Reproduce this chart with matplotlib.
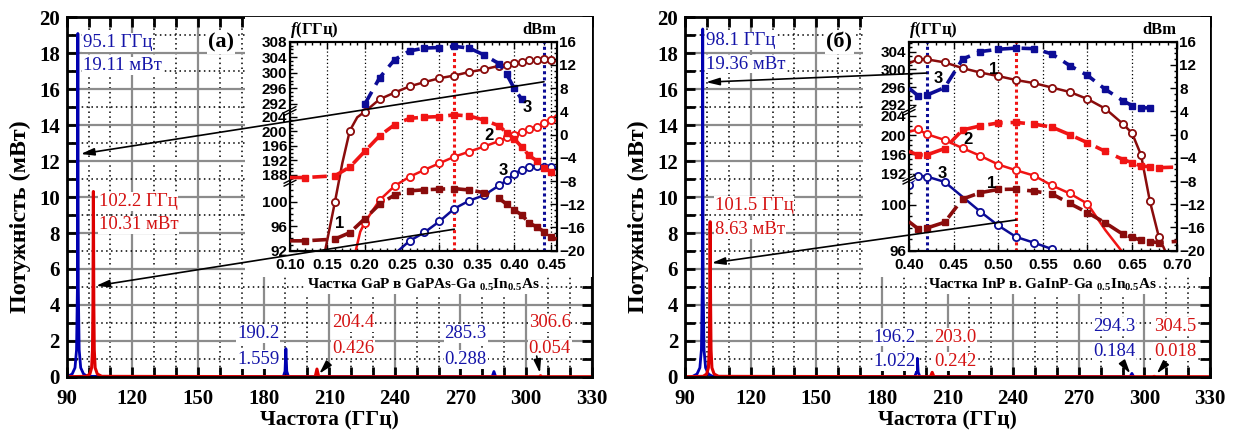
import numpy as np
import matplotlib
matplotlib.use("Agg")
import matplotlib.pyplot as plt
from matplotlib.patches import Rectangle, ConnectionPatch
from matplotlib.ticker import FixedLocator, MultipleLocator, FormatStrFormatter, FixedFormatter, NullFormatter

plt.rcParams['font.family'] = ['Liberation Serif', 'DejaVu Serif']
plt.rcParams['font.weight'] = 'bold'
plt.rcParams['axes.labelweight'] = 'bold'
plt.rcParams['mathtext.fontset'] = 'custom'
plt.rcParams['mathtext.rm'] = 'Liberation Serif:bold'
plt.rcParams['mathtext.bf'] = 'Liberation Serif:bold'
plt.rcParams['mathtext.it'] = 'Liberation Serif:italic:bold'

# ---------------- main spectra data ----------------
a_blue_f = [90.5, 92.5, 93.8, 94.5, 94.9, 95.1, 95.3, 95.7, 96.4, 97.7, 99.5,
            189.0, 189.8, 190.2, 190.6, 191.4, 284.5, 285.3, 286.1]
a_blue_p = [0.02, 0.15, 0.5, 1.5, 5.0, 19.11, 5.0, 1.5, 0.5, 0.15, 0.02,
            0.0, 0.3, 1.559, 0.3, 0.0, 0.0, 0.288, 0.0]
a_red_f = [90, 99.0, 100.6, 101.4, 101.8, 102.0, 102.2, 102.4, 102.6, 103.0, 104.0, 106.0,
           203.6, 204.4, 205.2, 306.0, 306.6, 307.2, 330]
a_red_p = [0, 0.02, 0.15, 0.5, 1.5, 4.0, 10.31, 4.0, 1.5, 0.5, 0.15, 0.02,
           0, 0.426, 0, 0, 0.054, 0, 0]

b_blue_f = [93.5, 95.5, 96.8, 97.5, 97.9, 98.1, 98.3, 98.7, 99.4, 100.7, 102.5,
            195.0, 195.8, 196.2, 196.6, 197.4, 293.5, 294.3, 295.1]
b_blue_p = [0.02, 0.15, 0.5, 1.5, 5.0, 19.36, 5.0, 1.5, 0.5, 0.15, 0.02,
            0.0, 0.25, 1.022, 0.25, 0.0, 0.0, 0.184, 0.0]
b_red_f = [90, 98.3, 99.9, 100.7, 101.1, 101.3, 101.5, 101.7, 101.9, 102.3, 103.3, 105.3,
           202.2, 203.0, 203.8, 303.7, 304.5, 305.3, 330]
b_red_p = [0, 0.02, 0.15, 0.5, 1.5, 4.0, 8.63, 4.0, 1.5, 0.5, 0.15, 0.02,
           0, 0.242, 0, 0, 0.018, 0, 0]

# ---------------- inset (a) data ----------------
a_x1 = [0.147, 0.16, 0.17, 0.18, 0.19, 0.20, 0.22, 0.24, 0.26, 0.28, 0.30, 0.32, 0.34, 0.36,
        0.38, 0.39, 0.40, 0.41, 0.42, 0.43, 0.44, 0.45, 0.457]
a_f1 = [92.0, 99.9, 191.2, 200.1, 203.8, 205.3, 293.2, 294.9, 296.5, 297.6, 298.6, 299.3, 300.2,
        300.9, 301.8, 302.1, 302.4, 302.7, 303.2, 303.3, 303.5, 303.4, 303.0]
a_x2 = [0.188, 0.194, 0.20, 0.22, 0.24, 0.26, 0.28, 0.30, 0.32, 0.34, 0.36, 0.38, 0.39, 0.40,
        0.41, 0.42, 0.43, 0.44, 0.45, 0.457]
a_f2 = [92.0, 95.1, 96.6, 100.3, 102.6, 187.5, 189.4, 191.2, 193.0, 194.4, 195.8, 197.3, 198.3,
        199.0, 199.9, 200.6, 201.2, 202.2, 203.1, 204.4]
a_x3 = [0.245, 0.26, 0.28, 0.30, 0.32, 0.34, 0.36, 0.38, 0.39, 0.40, 0.41, 0.42, 0.43, 0.44,
        0.45, 0.457]
a_f3 = [92.0, 93.6, 95.0, 96.8, 98.9, 100.2, 101.1, 102.7, 186.5, 188.3, 189.4, 190.1, 190.5,
        190.3, 190.1, 189.5]
a_px3 = [0.20, 0.22, 0.24, 0.26, 0.28, 0.30, 0.32, 0.34, 0.36, 0.38, 0.39, 0.40, 0.41]
a_p3 = [5.2, 9.8, 12.9, 14.4, 14.9, 15.0, 15.2, 14.9, 13.7, 12.2, 10.4, 8.0, 6.1]
a_px12 = [0.10, 0.12, 0.16, 0.18, 0.20, 0.22, 0.24, 0.26, 0.28, 0.30, 0.32, 0.34, 0.36, 0.38,
          0.39, 0.40, 0.41, 0.42, 0.43, 0.44, 0.45, 0.457]
a_p2 = [-7.4, -7.4, -7.1, -5.6, -2.9, -0.2, 1.7, 2.8, 3.0, 3.1, 3.4, 3.2, 2.5, 1.5, 0.3, -0.7,
        -2.1, -3.6, -4.5, -5.8, -6.4, -7.3]
a_p1 = [-18.3, -18.3, -18.0, -16.9, -14.5, -12.0, -10.4, -9.7, -9.5, -9.4, -9.3, -9.55, -10.0,
        -11.0, -12.0, -13.0, -13.8, -15.2, -15.9, -16.7, -17.7, -18.0]

# ---------------- inset (b) data ----------------
b_x1 = [0.40, 0.41, 0.42, 0.44, 0.46, 0.48, 0.50, 0.52, 0.54, 0.56, 0.58, 0.60, 0.62, 0.64,
        0.65, 0.66, 0.67, 0.68, 0.687]
b_f1 = [301.4, 302.3, 302.3, 301.6, 300.3, 299.3, 298.5, 297.6, 296.9, 295.9, 294.9, 293.3,
        291.1, 202.3, 200.4, 195.9, 100.3, 97.2, 96.0]
b_x2 = [0.40, 0.41, 0.42, 0.44, 0.46, 0.48, 0.50, 0.52, 0.54, 0.56, 0.58, 0.60, 0.62, 0.638]
b_f2 = [200.7, 201.2, 200.2, 199.0, 197.3, 195.7, 193.9, 192.7, 191.6, 101.7, 101.0, 100.1,
        97.8, 96.0]
b_x3 = [0.40, 0.41, 0.42, 0.44, 0.46, 0.48, 0.50, 0.52, 0.54, 0.56]
b_f3 = [101.7, 191.6, 191.4, 102.0, 100.7, 99.4, 98.2, 97.2, 96.7, 96.15]
b_px3 = [0.40, 0.41, 0.42, 0.44, 0.46, 0.48, 0.50, 0.52, 0.54, 0.56, 0.58, 0.60, 0.62, 0.64,
         0.65, 0.66, 0.67]
b_p3 = [8.0, 6.7, 6.8, 8.1, 13.0, 14.3, 14.7, 14.9, 14.8, 13.9, 11.9, 10.2, 7.8, 5.8, 5.0, 4.6, 4.6]
b_px12 = [0.40, 0.41, 0.42, 0.44, 0.46, 0.48, 0.50, 0.52, 0.54, 0.56, 0.58, 0.60, 0.62, 0.64,
          0.65, 0.66, 0.67, 0.68, 0.70]
b_p2 = [-2.9, -3.5, -3.5, -2.4, 0.8, 1.5, 2.0, 2.1, 1.8, 1.3, 0.0, -1.4, -2.9, -4.3, -4.85,
        -5.4, -5.55, -5.7, -5.6]
b_p1 = [-15.0, -16.2, -16.1, -15.1, -11.1, -10.0, -9.45, -9.4, -9.75, -10.2, -11.85, -13.45,
        -15.2, -17.2, -17.7, -18.2, -18.45, -18.6, -18.4]

SPEC_BLUE = '#0000b0'
SPEC_RED = '#dd0000'
TXT_BLUE = '#1414a8'
TXT_RED = '#d41212'
BLUE = '#0c0c96'
RED = '#f01414'
DRED = '#8a0c0c'
GRAYGRID = '#8c8c8c'
SANS = 'Liberation Sans'


def make_scale(F, U):
    F = np.asarray(F, float)
    U = np.asarray(U, float)
    s0 = (U[1] - U[0]) / (F[1] - F[0])
    s1 = (U[-1] - U[-2]) / (F[-1] - F[-2])

    def fwd(v):
        v = np.asarray(v, float)
        out = np.interp(v, F, U)
        out = np.where(v < F[0], U[0] + (v - F[0]) * s0, out)
        out = np.where(v > F[-1], U[-1] + (v - F[-1]) * s1, out)
        return out

    def inv(u):
        u = np.asarray(u, float)
        out = np.interp(u, U, F)
        out = np.where(u < U[0], F[0] + (u - U[0]) / s0, out)
        out = np.where(u > U[-1], F[-1] + (u - U[-1]) / s1, out)
        return out
    return fwd, inv


fig = plt.figure(figsize=(12.36, 4.36), dpi=100)

W, H = 1236.0, 436.0


def fr(x0, y0, x1, y1):
    return [x0 / W, 1 - y1 / H, (x1 - x0) / W, (y1 - y0) / H]


def style_main(ax, tag):
    ax.set_xlim(90, 330)
    ax.set_ylim(0, 20)
    ax.xaxis.set_major_locator(MultipleLocator(30))
    ax.xaxis.set_minor_locator(MultipleLocator(10))
    ax.yaxis.set_major_locator(MultipleLocator(2))
    ax.yaxis.set_minor_locator(MultipleLocator(1))
    ax.grid(True, which='major', color=GRAYGRID, lw=1.6, ls='-')
    ax.grid(True, which='minor', color='k', lw=1.1, ls=(0, (1, 2.2)))
    ax.set_axisbelow(True)
    ax.tick_params(which='both', direction='in', top=True, right=True, width=2,
                   length=7, labelsize=15, pad=5)
    ax.tick_params(axis='x', which='both', pad=9)
    for s in ax.spines.values():
        s.set_linewidth(2)
    ax.set_ylabel('Потужність (мВт)', fontsize=17.3)
    ax.yaxis.set_label_coords(-0.089, 0.446)
    ax.yaxis.label.set_va('center')
    ax.set_xlabel('Частота (ГГц)', fontsize=15.5)
    ax.xaxis.set_label_coords(0.5, -0.121)
    ax.xaxis.label.set_va('center')
    ax.text(160.5, 18.6, tag, fontsize=16, ha='center', va='center',
            bbox=dict(facecolor='white', edgecolor='none', pad=1))


def style_inset(ax, tw, xlim, xt, F, U, ylabels, minor_f, breaks, xlabel):
    fwd, inv = make_scale(F, U)
    ax.set_yscale('function', functions=(fwd, inv))
    ax.set_ylim(F[0], F[-1])
    ax.set_xlim(*xlim)
    tw.set_ylim(-20, 16)
    ax.yaxis.set_major_locator(FixedLocator(ylabels))
    ax.yaxis.set_major_formatter(FixedFormatter([str(v) for v in ylabels]))
    ax.yaxis.set_minor_locator(FixedLocator(minor_f))
    ax.yaxis.set_minor_formatter(NullFormatter())
    ax.xaxis.set_major_locator(FixedLocator(xt))
    ax.xaxis.set_major_formatter(FormatStrFormatter('%.2f'))
    ax.xaxis.set_minor_locator(MultipleLocator(0.01))
    tw.yaxis.set_major_locator(MultipleLocator(4))
    tw.yaxis.set_minor_locator(MultipleLocator(1))
    ax.grid(True, axis='x', which='major', color='k', lw=0.9, ls=(0, (1, 2)))
    ax.tick_params(which='both', direction='in', top=True, width=1, labelsize=11, pad=2)
    ax.tick_params(axis='x', which='both', pad=5)
    ax.tick_params(which='major', length=5)
    ax.tick_params(which='minor', length=2.5)
    tw.tick_params(which='both', direction='in', width=1, labelsize=11, pad=2)
    tw.tick_params(which='major', length=5)
    tw.tick_params(which='minor', length=2.5)
    for a in (ax, tw):
        for lbl in a.get_xticklabels() + a.get_yticklabels():
            lbl.set_fontfamily(SANS)
            lbl.set_fontweight('bold')
        for s in a.spines.values():
            s.set_linewidth(1.5)
    ax.set_xlabel(xlabel, fontsize=11, labelpad=4,
                  bbox=dict(facecolor='white', edgecolor='none', pad=0.5))
    ax.text(0.0, 1.055, r'$f$(ГГц)', transform=ax.transAxes, fontsize=12,
            ha='left', va='center')
    ax.text(1.0, 1.055, 'dBm', transform=ax.transAxes, fontsize=12, ha='right', va='center')
    for ub in breaks:
        ax.plot([-0.02, 0.02], [ub - 0.013, ub + 0.013], transform=ax.transAxes,
                color='white', lw=4.5, clip_on=False, zorder=6, solid_capstyle='butt')
        for d in (-0.007, 0.007):
            ax.plot([-0.022, 0.022], [ub + d - 0.014, ub + d + 0.014], transform=ax.transAxes,
                    color='k', lw=1.0, clip_on=False, zorder=7)


def freq_line(ax, x, f, color, mark_idx):
    ax.plot(x, f, color=color, lw=1.8, marker='o', ms=5.2, mfc='white', mec=color, mew=1.3,
            markevery=mark_idx, zorder=3)


def pow_line(ax, x, p, color, mark_idx):
    ax.plot(x, p, color=color, lw=2.6, ls=(0, (4, 2.2)), marker='s', ms=5, mfc=color,
            mec=color, markevery=mark_idx, zorder=3)


def arrow(fig, xyA, axA, xyB, axB):
    con = ConnectionPatch(xyA=xyA, coordsA=axA.transData, xyB=xyB, coordsB=axB.transData,
                          arrowstyle='<|-,head_length=0.8,head_width=0.22', mutation_scale=10,
                          color='k', lw=1.2, zorder=10)
    fig.add_artist(con)


def small_arrow(ax, start, tip):
    ax.annotate('', xy=tip, xytext=start,
                arrowprops=dict(arrowstyle='-|>,head_length=0.8,head_width=0.22',
                                mutation_scale=10, color='k', lw=1.2))


def peak_text(ax, x, y, s, color, ha='left', size=13.5):
    ax.text(x, y, s, color=color, fontsize=size, fontweight='normal', ha=ha, va='center',
            bbox=dict(facecolor='white', edgecolor='none', pad=0.6))


# ================= Panel (a) =================
axA = fig.add_axes(fr(66.7, 17.5, 591.7, 376.7))
axA.set_zorder(0)
style_main(axA, '(а)')
axA.plot(a_blue_f, a_blue_p, color=SPEC_BLUE, lw=2)
axA.plot(a_red_f, a_red_p, color=SPEC_RED, lw=2.2)
peak_text(axA, 97.3, 18.6, '95.1 ГГц', TXT_BLUE)
peak_text(axA, 97.3, 17.3, '19.11 мВт', TXT_BLUE)
peak_text(axA, 104.6, 9.75, '102.2 ГГц', TXT_RED)
peak_text(axA, 104.6, 8.45, '10.31 мВт', TXT_RED)
peak_text(axA, 177.6, 2.4, '190.2', TXT_BLUE, 'center')
peak_text(axA, 177.6, 0.95, '1.559', TXT_BLUE, 'center')
peak_text(axA, 220.9, 3.0, '204.4', TXT_RED, 'center')
peak_text(axA, 220.9, 1.55, '0.426', TXT_RED, 'center')
peak_text(axA, 272.4, 2.4, '285.3', TXT_BLUE, 'center')
peak_text(axA, 272.4, 0.95, '0.288', TXT_BLUE, 'center')
peak_text(axA, 310.8, 3.0, '306.6', TXT_RED, 'center')
peak_text(axA, 310.8, 1.55, '0.054', TXT_RED, 'center')
small_arrow(axA, (210.5, 0.85), (204.6, 0.05))
small_arrow(axA, (304.6, 1.3), (306.6, 0.05))

fig.add_artist(Rectangle((245 / W, 1 - 277 / H), (591.7 - 245) / W, (277 - 17.5) / H,
                         transform=fig.transFigure, facecolor='white', edgecolor='none',
                         zorder=1))

inA = fig.add_axes(fr(290, 41.7, 556.7, 250.7))
inA.set_zorder(2)
twA = inA.twinx()
twA.set_zorder(3)
twA.patch.set_visible(False)
a_F = [92, 103.3, 186.2, 205.5, 290.2, 308]
a_U = [0, 0.330, 0.331, 0.668, 0.669, 1.0]
a_minor = list(range(92, 104)) + list(range(187, 206)) + list(range(291, 309))
style_inset(inA, twA, (0.10, 0.457), [0.10, 0.15, 0.20, 0.25, 0.30, 0.35, 0.40, 0.45],
            a_F, a_U, [92, 96, 100, 188, 192, 196, 200, 204, 292, 296, 300, 304, 308],
            a_minor, [0.330, 0.668],
            r'Частка GaP в GaPAs-Ga $_{\mathbf{0.5}}$In$_{\mathbf{0.5}}$As')
inA.axvline(0.32, color=RED, lw=2.2, ls=(0, (1, 1)), zorder=2)
inA.axvline(0.44, color=BLUE, lw=2.2, ls=(0, (1, 1)), zorder=2)
freq_line(inA, a_x1, a_f1, DRED, [1, 3] + list(range(5, 22)))
freq_line(inA, a_x2, a_f2, RED, list(range(2, 19)))
freq_line(inA, a_x3, a_f3, BLUE, list(range(1, 15)))
pow_line(twA, a_px3, a_p3, BLUE, list(range(0, 13)))
pow_line(twA, a_px12, a_p2, RED, list(range(1, 21)))
pow_line(twA, a_px12, a_p1, DRED, list(range(1, 21)))
for (x, y, s) in [(0.167, -15.3, '1'), (0.366, -0.2, '2'), (0.386, -6.1, '3'), (0.417, 4.7, '3')]:
    twA.text(x, y, s, fontsize=12, fontfamily=SANS, ha='center', va='center', zorder=8)
arrow(fig, (96.4, 12.4), axA, (0.44, 9.1), twA)
arrow(fig, (103.4, 5.06), axA, (0.32, -16.3), twA)

# ================= Panel (b) =================
axB = fig.add_axes(fr(685, 17.5, 1210, 376.7))
axB.set_zorder(0)
style_main(axB, '(б)')
axB.plot(b_blue_f, b_blue_p, color=SPEC_BLUE, lw=2)
axB.plot(b_red_f, b_red_p, color=SPEC_RED, lw=2.2)
peak_text(axB, 99.6, 18.7, '98.1 ГГц', TXT_BLUE)
peak_text(axB, 99.6, 17.4, '19.36 мВт', TXT_BLUE)
peak_text(axB, 103.6, 9.55, '101.5 ГГц', TXT_RED)
peak_text(axB, 103.6, 8.2, '8.63 мВт', TXT_RED)
peak_text(axB, 185.8, 2.2, '196.2', TXT_BLUE, 'center')
peak_text(axB, 185.8, 0.85, '1.022', TXT_BLUE, 'center')
peak_text(axB, 213.4, 2.2, '203.0', TXT_RED, 'center')
peak_text(axB, 213.4, 0.85, '0.242', TXT_RED, 'center')
peak_text(axB, 286.1, 2.8, '294.3', TXT_BLUE, 'center')
peak_text(axB, 286.1, 1.4, '0.184', TXT_BLUE, 'center')
peak_text(axB, 314.0, 2.8, '304.5', TXT_RED, 'center')
peak_text(axB, 314.0, 1.4, '0.018', TXT_RED, 'center')
small_arrow(axB, (290.8, 0.65), (294.3, 0.05))
small_arrow(axB, (309.0, 0.65), (304.8, 0.05))

fig.add_artist(Rectangle((863 / W, 1 - 277 / H), (1210 - 863) / W, (277 - 17.5) / H,
                         transform=fig.transFigure, facecolor='white', edgecolor='none',
                         zorder=1))

inB = fig.add_axes(fr(909, 41.7, 1176.7, 250.7))
inB.set_zorder(2)
twB = inB.twinx()
twB.set_zorder(3)
twB.patch.set_visible(False)
b_F = [96, 102.2, 190.8, 205.0, 290.6, 306.3]
b_U = [0, 0.340, 0.341, 0.668, 0.669, 1.0]
b_minor = list(range(96, 103)) + list(range(191, 206)) + list(range(291, 307))
style_inset(inB, twB, (0.40, 0.70), [0.40, 0.45, 0.50, 0.55, 0.60, 0.65, 0.70],
            b_F, b_U, [96, 100, 192, 196, 200, 204, 292, 296, 300, 304],
            b_minor, [0.340, 0.668],
            r'Частка InP в. GaInP-Ga $_{\mathbf{0.5}}$In$_{\mathbf{0.5}}$As')
inB.axvline(0.52, color=RED, lw=2.2, ls=(0, (1, 1)), zorder=2)
inB.axvline(0.42, color=BLUE, lw=2.2, ls=(0, (1, 1)), zorder=2)
freq_line(inB, b_x1, b_f1, DRED, list(range(1, 18)))
freq_line(inB, b_x2, b_f2, RED, list(range(1, 12)))
freq_line(inB, b_x3, b_f3, BLUE, [0, 1, 2, 3, 5, 6, 7, 8, 9])
pow_line(twB, b_px3, b_p3, BLUE, list(range(1, 17)))
pow_line(twB, b_px12, b_p2, RED, list(range(1, 18)))
pow_line(twB, b_px12, b_p1, DRED, list(range(1, 18)))
for (x, y, s) in [(0.4945, 11.2, '1'), (0.433, 9.7, '3'), (0.466, -0.9, '2'),
                  (0.437, -6.7, '3'), (0.493, -8.4, '1')]:
    twB.text(x, y, s, fontsize=12, fontfamily=SANS, ha='center', va='center', zorder=8)
arrow(fig, (99.6, 16.4), axB, (0.42, 10.6), twB)
arrow(fig, (102.2, 6.33), axB, (0.52, -14.7), twB)

fig.savefig('out.png', dpi=100)
